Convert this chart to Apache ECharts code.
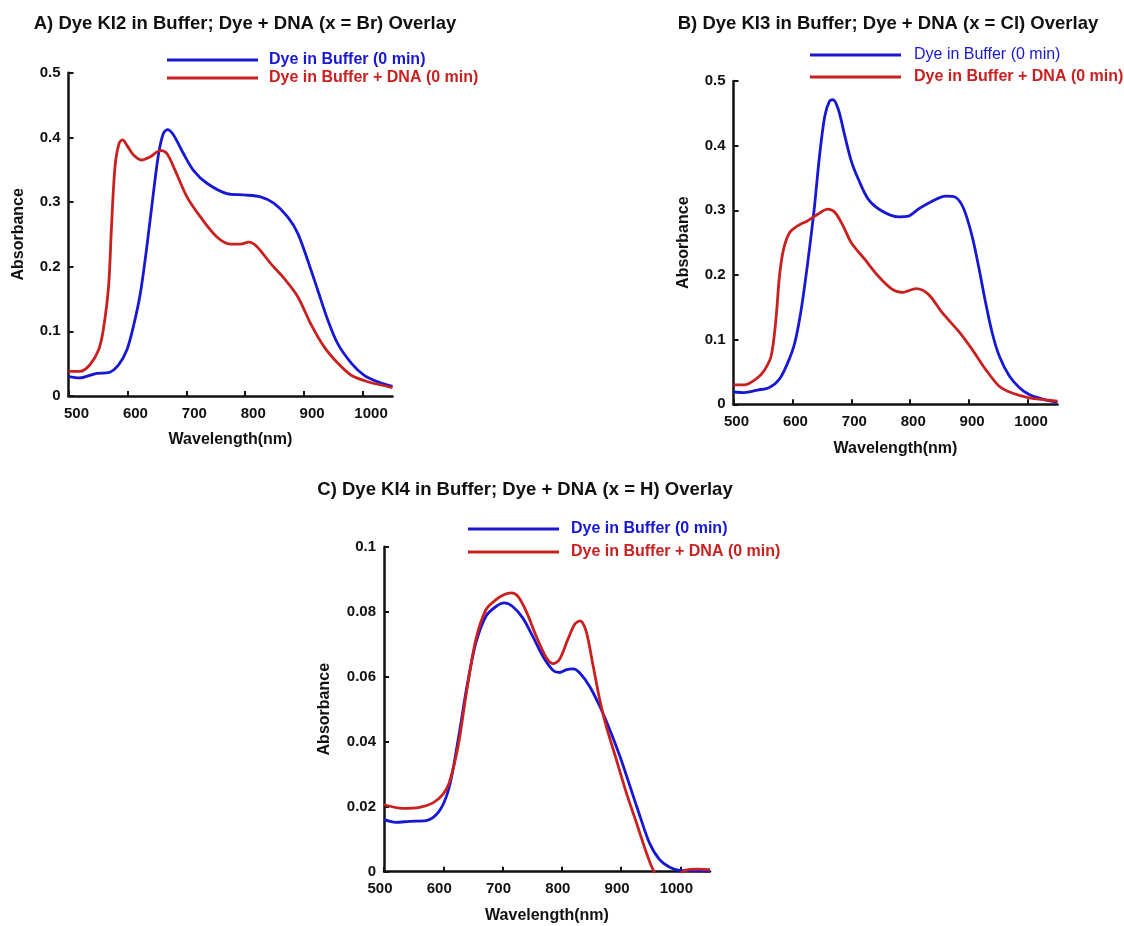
<!DOCTYPE html>
<html>
<head>
<meta charset="utf-8">
<script src="https://cdn.jsdelivr.net/npm/echarts@6/dist/echarts.min.js"></script>
<style>
  html, body { margin: 0; padding: 0; background: #fff; }
  #main { width: 1124px; height: 926px; }
</style>
</head>
<body>
<div id="main"></div>
<script>
// tick labels
var wlTicks = [500, 600, 700, 800, 900, 1000];

// A) KI2, x = Br
var aBlueWl = [500, 519, 548, 568, 585, 599, 610, 622, 633, 644, 653, 661, 668, 678, 695, 712, 735, 769, 798, 826, 849, 872, 889, 906, 923, 940, 957, 980, 1002, 1025, 1050];
var aBlueAbs = [0.030, 0.028, 0.035, 0.036, 0.048, 0.071, 0.107, 0.159, 0.231, 0.313, 0.375, 0.406, 0.412, 0.404, 0.375, 0.349, 0.329, 0.313, 0.311, 0.308, 0.298, 0.277, 0.252, 0.210, 0.164, 0.118, 0.081, 0.051, 0.032, 0.022, 0.015];
var aRedWl = [500, 519, 536, 551, 559, 568, 573, 579, 586, 592, 599, 610, 624, 639, 656, 667, 681, 701, 724, 752, 775, 792, 806, 820, 843, 866, 889, 911, 934, 957, 980, 1008, 1050];
var aRedAbs = [0.038, 0.038, 0.048, 0.071, 0.102, 0.169, 0.262, 0.355, 0.391, 0.396, 0.388, 0.373, 0.365, 0.370, 0.380, 0.375, 0.349, 0.308, 0.277, 0.246, 0.235, 0.235, 0.238, 0.231, 0.205, 0.182, 0.154, 0.112, 0.076, 0.051, 0.032, 0.022, 0.013];

// B) KI3, x = Cl
var bBlueWl = [500, 518, 541, 561, 578, 592, 604, 615, 626, 637, 646, 655, 663, 669, 678, 689, 700, 712, 729, 752, 780, 797, 814, 837, 860, 877, 891, 905, 917, 928, 939, 951, 968, 985, 1002, 1025, 1050];
var bBlueAbs = [0.019, 0.018, 0.022, 0.026, 0.039, 0.064, 0.095, 0.147, 0.219, 0.302, 0.384, 0.446, 0.469, 0.471, 0.456, 0.415, 0.376, 0.348, 0.317, 0.299, 0.290, 0.291, 0.302, 0.314, 0.322, 0.320, 0.302, 0.260, 0.209, 0.157, 0.111, 0.075, 0.044, 0.026, 0.015, 0.008, 0.003];
var bRedWl = [500, 518, 538, 552, 564, 572, 578, 585, 595, 609, 626, 643, 660, 672, 686, 700, 723, 746, 769, 786, 810, 831, 854, 882, 905, 928, 951, 974, 1002, 1030, 1050];
var bRedAbs = [0.030, 0.030, 0.039, 0.052, 0.075, 0.131, 0.198, 0.240, 0.265, 0.276, 0.284, 0.294, 0.302, 0.297, 0.276, 0.250, 0.224, 0.198, 0.178, 0.173, 0.179, 0.170, 0.142, 0.113, 0.085, 0.054, 0.028, 0.017, 0.010, 0.007, 0.005];

// C) KI4, x = H
var cBlueWl = [500, 520, 543, 571, 588, 602, 613, 627, 641, 655, 672, 689, 703, 717, 734, 751, 768, 785, 796, 808, 819, 830, 847, 864, 881, 898, 915, 932, 948, 965, 982, 999, 1022, 1050];
var cBlueAbs = [0.0160, 0.0152, 0.0155, 0.0157, 0.0175, 0.0216, 0.0283, 0.0427, 0.0581, 0.0704, 0.0786, 0.0816, 0.0827, 0.0816, 0.0781, 0.0724, 0.0663, 0.0620, 0.0613, 0.0622, 0.0624, 0.0612, 0.0570, 0.0509, 0.0437, 0.0355, 0.0263, 0.0170, 0.0088, 0.0037, 0.0014, 0.0004, 0.0003, 0.0002];
var cRedWl = [500, 532, 560, 582, 599, 610, 625, 639, 655, 672, 689, 703, 715, 726, 740, 757, 774, 785, 796, 810, 822, 831, 841, 853, 864, 875, 892, 909, 926, 943, 956, 975, 1010, 1030, 1050];
var cRedAbs = [0.0206, 0.0195, 0.0198, 0.0211, 0.0237, 0.0273, 0.0386, 0.0550, 0.0714, 0.0806, 0.0837, 0.0853, 0.0858, 0.0847, 0.0801, 0.0724, 0.0658, 0.0640, 0.0653, 0.0714, 0.0762, 0.0772, 0.0740, 0.0632, 0.0529, 0.0447, 0.0345, 0.0242, 0.0150, 0.0057, 0, -0.003, 0.0005, 0.0008, 0.0006];

var nameBlue = 'Dye in Buffer (0 min)';
var nameRed = 'Dye in Buffer + DNA (0 min)';
var blue = '#1818d4';
var red = '#c92020';
var font = '"Liberation Sans", Arial, sans-serif';

function pairs(xs, ys) {
    var out = [];
    for (var i = 0; i < xs.length; i++) {
        out.push([xs[i], ys[i]]);
    }
    return out;
}

function xAx(idx, labelPad) {
    return {
        gridIndex: idx,
        type: 'value',
        min: 500,
        max: 1050,
        interval: 100,
        name: 'Wavelength(nm)',
        nameLocation: 'middle',
        nameGap: 36,
        nameTextStyle: { fontFamily: font, fontWeight: 'bold', fontSize: 16, color: '#111' },
        axisLine: { show: true, lineStyle: { color: '#111', width: 2.5 } },
        axisTick: { show: true, inside: true, length: 5, customValues: wlTicks, lineStyle: { color: '#111', width: 2 } },
        axisLabel: {
            customValues: wlTicks,
            margin: 10,
            fontFamily: font, fontWeight: 'bold', fontSize: 15, color: '#111',
            padding: labelPad,
            formatter: function (v) { return String(v); }
        },
        splitLine: { show: false }
    };
}

function yAx(idx, max, step, gap) {
    return {
        gridIndex: idx,
        type: 'value',
        min: 0,
        max: max,
        interval: step,
        name: 'Absorbance',
        nameLocation: 'middle',
        nameGap: gap,
        nameTextStyle: { fontFamily: font, fontWeight: 'bold', fontSize: 16, color: '#111' },
        axisLine: { show: true, lineStyle: { color: '#111', width: 2.5 } },
        axisTick: { show: true, inside: true, length: 5, lineStyle: { color: '#111', width: 2 } },
        axisLabel: { margin: 8, fontFamily: font, fontWeight: 'bold', fontSize: 15, color: '#111' },
        splitLine: { show: false }
    };
}

function line(name, color, idx, data) {
    return {
        name: name,
        type: 'line',
        xAxisIndex: idx,
        yAxisIndex: idx,
        data: data,
        smooth: 0.3,
        showSymbol: false,
        clip: true,
        lineStyle: { color: color, width: 2.8 },
        itemStyle: { color: color }
    };
}

function legendAt(left, top, gap, pad, blueWeight) {
    return {
        left: left,
        top: top,
        orient: 'vertical',
        icon: 'rect',
        itemWidth: 91,
        itemHeight: 3,
        itemGap: gap,
        selectedMode: false,
        padding: 0,
        textStyle: { fontFamily: font, fontSize: 16, lineHeight: 16, padding: [0, 0, 0, pad] },
        data: [
            { name: nameBlue, textStyle: { color: blue, fontWeight: blueWeight } },
            { name: nameRed, textStyle: { color: red, fontWeight: 'bold' } }
        ]
    };
}

function titleAt(text, cx, top) {
    return {
        text: text,
        left: cx,
        top: top,
        padding: 0,
        textAlign: 'center',
        textStyle: { fontFamily: font, fontWeight: 'bold', fontSize: 18.5, color: '#111' }
    };
}

var chart = echarts.init(document.getElementById('main'));

var option = {
    backgroundColor: '#fff',
    animation: false,
    title: [
        titleAt('A) Dye KI2 in Buffer; Dye + DNA (x = Br) Overlay', 245, 14),
        titleAt('B) Dye KI3 in Buffer; Dye + DNA (x = Cl) Overlay', 888, 14),
        titleAt('C) Dye KI4 in Buffer; Dye + DNA (x = H) Overlay', 525, 480)
    ],
    legend: [
        legendAt(167, 52, 2, 6, 'bold'),
        legendAt(810, 47, 6, 8, 'normal'),
        legendAt(468, 521, 7, 7, 'bold')
    ],
    grid: [
        { left: 68.5, top: 72.7, width: 324, height: 323.3 },
        { left: 733.5, top: 81, width: 324, height: 323.3 },
        { left: 384, top: 546.7, width: 326, height: 325 }
    ],
    xAxis: [
        xAx(0, [0, 0, 0, 16]),
        xAx(1, [0, 0, 0, 6]),
        xAx(2, [0, 8, 0, 0])
    ],
    yAxis: [
        yAx(0, 0.5, 0.1, 42),
        yAx(1, 0.5, 0.1, 42),
        yAx(2, 0.1, 0.02, 51)
    ],
    series: [
        line(nameBlue, blue, 0, pairs(aBlueWl, aBlueAbs)),
        line(nameRed, red, 0, pairs(aRedWl, aRedAbs)),
        line(nameBlue, blue, 1, pairs(bBlueWl, bBlueAbs)),
        line(nameRed, red, 1, pairs(bRedWl, bRedAbs)),
        line(nameBlue, blue, 2, pairs(cBlueWl, cBlueAbs)),
        line(nameRed, red, 2, pairs(cRedWl, cRedAbs))
    ]
};

chart.setOption(option);
</script>
</body>
</html>
